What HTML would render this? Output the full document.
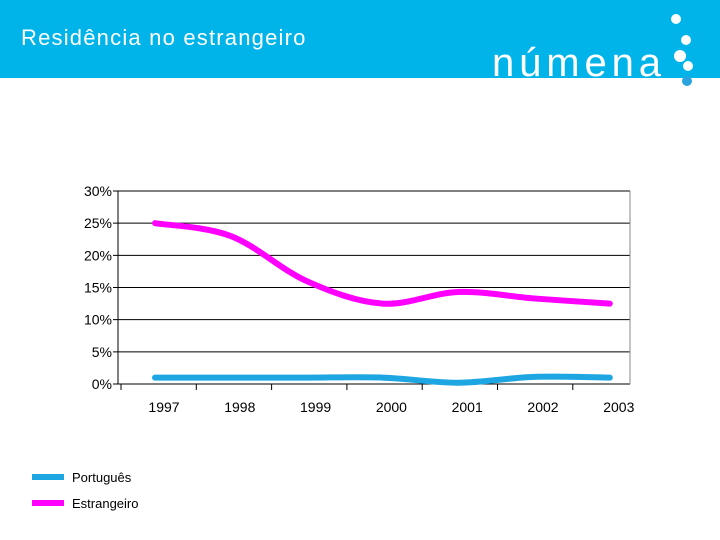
<!DOCTYPE html>
<html><head><meta charset="utf-8"><style>
body{margin:0;width:720px;height:540px;background:#fff;overflow:hidden;font-family:"Liberation Sans",sans-serif}
#hdr{position:absolute;left:0;top:0;width:720px;height:78px;background:#00b4ea}
#title{position:absolute;left:21px;top:25px;color:#fff;font-size:22px;letter-spacing:1.2px}
</style></head><body>
<div id="hdr"></div>
<div id="title">Residência no estrangeiro</div>
<svg width="720" height="540" style="position:absolute;left:0;top:0">
<g>
<text x="492" y="76" fill="#fff" font-size="40" font-family="Liberation Sans" letter-spacing="3" textLength="172">númena</text>
<circle cx="676" cy="19" r="5" fill="#fff"/>
<circle cx="686" cy="40" r="5" fill="#fff"/>
<circle cx="680" cy="56" r="6" fill="#fff"/>
<circle cx="688" cy="66" r="5" fill="#fff"/>
<circle cx="687" cy="81" r="5" fill="#29a3de"/>
</g>
<g id="grid"></g><g id="series"></g><g id="labels"></g>
</svg>
<script>
const years=["1997","1998","1999","2000","2001","2002","2003"];
const portugues=[1.0,1.0,1.0,1.0,0.2,1.1,1.0];
const estrangeiro=[25.0,23.0,16.0,12.5,14.3,13.3,12.5];
const yTicks=[0,5,10,15,20,25,30];
const NS="http://www.w3.org/2000/svg";
const x0=118,x1=630,y0=384,y1=191;
const xs=i=>155+i*75.8;
const ys=v=>y0-(v/30)*(y0-y1);
function mk(t,a,p){const e=document.createElementNS(NS,t);for(const k in a)e.setAttribute(k,a[k]);p.appendChild(e);return e;}
const grid=document.getElementById('grid'),ser=document.getElementById('series'),lab=document.getElementById('labels');
yTicks.forEach(v=>{
 const l=mk('line',{x1:x0-5,x2:x1,y1:ys(v),y2:ys(v),stroke:'#000','stroke-width':1},grid);
 
 
 const t=mk('text',{x:x0-6,y:ys(v)+5,'text-anchor':'end','font-size':14,fill:'#000'},lab);
 t.textContent=v+'%';
 
 
});
const ax=mk('line',{x1:x0,x2:x0,y1:y1,y2:y0,stroke:'#000'},grid);


const rb=mk('line',{x1:x1,x2:x1,y1:y1,y2:y0,stroke:'#888'},grid);


years.forEach((y,i)=>{
 const tk=mk('line',{x1:121+i*75.3,x2:121+i*75.3,y1:y0,y2:y0+6,stroke:'#000'},grid);
 
 
 const t=mk('text',{x:xs(i)+9,y:412,'text-anchor':'middle','font-size':14,fill:'#000'},lab);
 t.textContent=y;
 
 
});
function smooth(vals){
 const p=vals.map((v,i)=>[xs(i),ys(v)]);let d='M'+p[0];
 for(let i=0;i<p.length-1;i++){const a=p[i-1]||p[i],b=p[i],c=p[i+1],e=p[i+2]||c;
  d+=` C${b[0]+(c[0]-a[0])/6},${b[1]+(c[1]-a[1])/6} ${c[0]-(e[0]-b[0])/6},${c[1]-(e[1]-b[1])/6} ${c[0]},${c[1]}`;}
 return d;}
const pl=mk('path',{d:smooth(portugues),fill:'none',stroke:'#1ea6e2','stroke-width':6,'stroke-linecap':'round'},ser);


const el=mk('path',{d:smooth(estrangeiro),fill:'none',stroke:'#ff00ff','stroke-width':6,'stroke-linecap':'round'},ser);


[["Português","#1ea6e2",477],["Estrangeiro","#ff00ff",503]].forEach(([n,c,y])=>{
 const l=mk('line',{x1:32,x2:64,y1:y,y2:y,stroke:c,'stroke-width':6},lab);
 
 
 const t=mk('text',{x:72,y:y+5,'font-size':13,fill:'#000'},lab);
 t.textContent=n;
 
 
});
</script>
</body></html>
